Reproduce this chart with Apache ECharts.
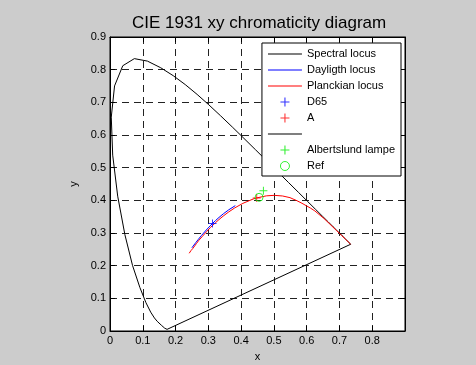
<!DOCTYPE html>
<html><head><meta charset="utf-8">
<script src="https://cdn.jsdelivr.net/npm/echarts@6/dist/echarts.min.js"></script>
<style>html,body{margin:0;padding:0;background:#cccccc;}#c{width:476px;height:365px;}</style>
</head><body><div id="c"></div>
<script>
// Spectral locus (CIE 1931 2 deg), 380..700 nm, closed by purple line
const specX = [0.1741,0.1740,0.1738,0.1736,0.1733,0.1730,0.1726,0.1721,0.1714,0.1703,0.1689,0.1669,0.1644,0.1611,0.1566,0.1510,0.1440,0.1355,0.1241,0.1096,0.0913,0.0687,0.0454,0.0235,0.0082,0.0039,0.0139,0.0389,0.0743,0.1142,0.1547,0.1929,0.2296,0.2658,0.3016,0.3373,0.3731,0.4087,0.4441,0.4788,0.5125,0.5448,0.5752,0.6029,0.6270,0.6482,0.6658,0.6801,0.6915,0.7006,0.7079,0.7140,0.7190,0.7230,0.7260,0.7283,0.7300,0.7311,0.7320,0.7327,0.7334,0.7344,0.7347,0.1741];
const specY = [0.0050,0.0050,0.0049,0.0049,0.0048,0.0048,0.0048,0.0048,0.0051,0.0058,0.0069,0.0086,0.0109,0.0138,0.0177,0.0227,0.0297,0.0399,0.0578,0.0868,0.1327,0.2007,0.2950,0.4127,0.5384,0.6548,0.7502,0.8120,0.8338,0.8262,0.8059,0.7816,0.7543,0.7243,0.6923,0.6589,0.6245,0.5896,0.5547,0.5202,0.4866,0.4544,0.4242,0.3965,0.3725,0.3514,0.3340,0.3197,0.3083,0.2993,0.2920,0.2859,0.2809,0.2770,0.2740,0.2717,0.2700,0.2689,0.2680,0.2673,0.2666,0.2656,0.2653,0.0050];
// Daylight locus, 25000 K .. 4000 K
const dayX = [0.2499,0.2539,0.2614,0.2697,0.2788,0.2938,0.3054,0.3128,0.3217,0.3325,0.3457,0.3621,0.3823];
const dayY = [0.2548,0.2603,0.2702,0.2808,0.2920,0.3092,0.3216,0.3292,0.3378,0.3476,0.3587,0.3709,0.3838];
// Planckian locus
const planckX = [0.2416,0.2470,0.2530,0.2580,0.2637,0.2713,0.2807,0.2951,0.3064,0.3135,0.3221,0.3325,0.3451,0.3608,0.3805,0.4053,0.4369,0.4476,0.4770,0.5010,0.5267,0.5491,0.5700,0.5857,0.6120,0.6249,0.6528,0.6710,0.6903,0.7060,0.7190,0.7290,0.7340];
const planckY = [0.2380,0.2460,0.2530,0.2590,0.2676,0.2779,0.2883,0.3048,0.3166,0.3236,0.3318,0.3411,0.3516,0.3635,0.3768,0.3907,0.4041,0.4074,0.4137,0.4153,0.4133,0.4082,0.3990,0.3910,0.3760,0.3676,0.3444,0.3270,0.3082,0.2930,0.2805,0.2705,0.2655];
const d65 = [0.3127, 0.3290];
const illumA = [0.4476, 0.4074];
const albertslund = [0.4680, 0.4295];
const refPt = [0.4548, 0.4092];
const xTickLabels = ['0','0.1','0.2','0.3','0.4','0.5','0.6','0.7','0.8',''];
const yTickLabels = ['0','0.1','0.2','0.3','0.4','0.5','0.6','0.7','0.8','0.9'];
const seriesNames = ['Spectral locus','Dayligth locus','Planckian locus','D65','A',' ','Albertslund lampe','Ref'];

const FF = '"Liberation Sans", Arial, Helvetica, sans-serif';
const pairs = (xs, ys) => xs.map((v, i) => [v, ys[i]]);
const CROSS = 'path://M4.4,0H5.6V4.4H10V5.6H5.6V10H4.4V5.6H0V4.4H4.4Z';
const LINEICON = 'path://M0,0H34V1H0Z';
const LINEICON2 = 'path://M0,0H34V1.5H0Z';

const chart = echarts.init(document.getElementById('c'), null, {renderer: 'canvas'});
const gridLine = {show: true, lineStyle: {color: '#222', width: 1, type: [7, 5]}};
const axLine = {show: true, onZero: false, lineStyle: {color: '#000', width: 1}};
const axTick = {show: true, inside: true, length: 5, lineStyle: {color: '#000'}};
chart.setOption({
  animation: false,
  backgroundColor: '#cccccc',
  title: {
    text: 'CIE 1931 xy chromaticity diagram', left: 127, top: 10,
    padding: 5,
    textStyle: {fontSize: 17, fontWeight: 'normal', color: '#000', fontFamily: FF}
  },
  grid: {left: 110, right: 71, top: 37, bottom: 34, show: true, backgroundColor: '#fff',
         borderColor: '#000', borderWidth: 1, containLabel: false, outerBoundsMode: 'none'},
  xAxis: [
    {type: 'value', min: 0, max: 0.9, interval: 0.1, position: 'bottom',
     axisLine: axLine, axisTick: axTick, splitLine: gridLine,
     axisLabel: {fontSize: 11, color: '#000', margin: 4, fontFamily: FF,
                 formatter: (v, i) => xTickLabels[i]},
     name: 'x', nameLocation: 'middle', nameGap: 20,
     nameTextStyle: {fontSize: 11, color: '#000', fontFamily: FF}},
    {type: 'value', min: 0, max: 0.9, interval: 0.1, position: 'top',
     axisLine: axLine, axisTick: axTick, splitLine: {show: false}, axisLabel: {show: false}}
  ],
  yAxis: [
    {type: 'value', min: 0, max: 0.9, interval: 0.1, position: 'left',
     axisLine: axLine, axisTick: axTick, splitLine: gridLine,
     axisLabel: {fontSize: 11, color: '#000', margin: 4, fontFamily: FF,
                 formatter: (v, i) => yTickLabels[i]},
     name: 'y', nameLocation: 'middle', nameGap: 25,
     nameTextStyle: {fontSize: 11, color: '#000', fontFamily: FF}},
    {type: 'value', min: 0, max: 0.9, interval: 0.1, position: 'right',
     axisLine: axLine, axisTick: axTick, splitLine: {show: false}, axisLabel: {show: false}}
  ],
  legend: {
    orient: 'vertical', right: 75, top: 43,
    padding: [5, 6, 4, 6], itemWidth: 34, itemHeight: 9, itemGap: 4,
    backgroundColor: '#fff', borderColor: '#000', borderWidth: 1, borderRadius: 0,
    textStyle: {fontSize: 11, color: '#000', lineHeight: 12, fontFamily: FF},
    data: [
      {name: seriesNames[0], icon: LINEICON, itemStyle: {borderWidth: 0}},
      {name: seriesNames[1], icon: LINEICON, itemStyle: {borderWidth: 0}},
      {name: seriesNames[2], icon: LINEICON, itemStyle: {borderWidth: 0}},
      {name: seriesNames[3], icon: CROSS, itemStyle: {borderWidth: 0}},
      {name: seriesNames[4], icon: CROSS, itemStyle: {borderWidth: 0}},
      {name: seriesNames[5], icon: LINEICON2, itemStyle: {borderWidth: 0}},
      {name: seriesNames[6], icon: CROSS, itemStyle: {borderWidth: 0}},
      {name: seriesNames[7], icon: 'circle', itemStyle: {color: 'transparent', borderColor: '#00ee00', borderWidth: 1}}
    ]
  },
  series: [
    {name: seriesNames[0], type: 'line', data: pairs(specX, specY), symbol: 'none', color: '#000',
     lineStyle: {color: '#000', width: 1}, z: 3},
    {name: seriesNames[1], type: 'line', data: pairs(dayX, dayY), symbol: 'none', color: '#0000ff',
     lineStyle: {color: '#0000ff', width: 1}, z: 3},
    {name: seriesNames[2], type: 'line', data: pairs(planckX, planckY), symbol: 'none', color: '#ff0000',
     lineStyle: {color: '#ff0000', width: 1}, z: 3},
    {name: seriesNames[3], type: 'scatter', data: [d65], symbol: CROSS, symbolSize: 8, color: '#0000ff',
     itemStyle: {color: '#0000ff'}, z: 4},
    {name: seriesNames[4], type: 'scatter', data: [illumA], symbol: CROSS, symbolSize: 8, color: '#ff0000',
     itemStyle: {color: '#ff0000'}, z: 4},
    {name: seriesNames[5], type: 'line', data: [], symbol: 'none', color: '#555',
     lineStyle: {color: '#555', width: 1}, z: 3},
    {name: seriesNames[6], type: 'scatter', data: [albertslund], symbol: CROSS, symbolSize: 8, color: '#00ee00',
     itemStyle: {color: '#00ee00'}, z: 4},
    {name: seriesNames[7], type: 'scatter', data: [refPt], symbol: 'circle', symbolSize: 8, color: '#00ee00',
     itemStyle: {color: 'transparent', borderColor: '#00ee00', borderWidth: 1}, z: 4}
  ]
});
</script>
</body></html>
